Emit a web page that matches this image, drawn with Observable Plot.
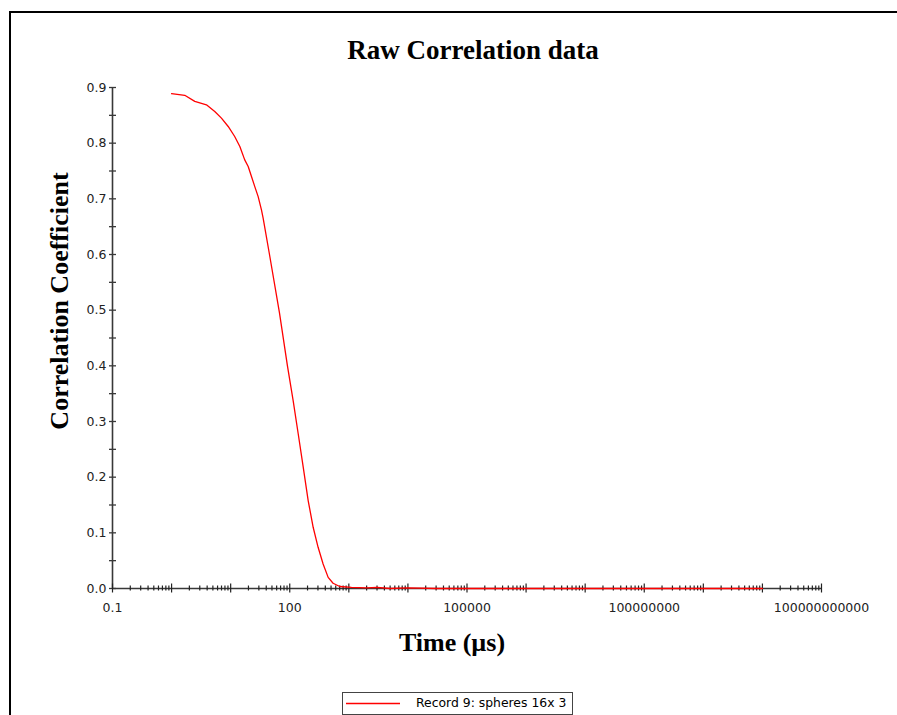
<!DOCTYPE html>
<html>
<head>
<meta charset="utf-8">
<script src="https://cdn.jsdelivr.net/npm/d3@7"></script>
<script src="https://cdn.jsdelivr.net/npm/@observablehq/plot@0.6"></script>
<style>
  html, body { margin: 0; padding: 0; background: #fff; }
  #page { position: relative; width: 897px; height: 715px; overflow: hidden; background: #fff; }
  #frame { position: absolute; left: 9px; top: 11px; width: 950px; height: 760px;
           border-top: 2px solid #000; border-left: 2px solid #000; }
  #chart { position: absolute; left: 0; top: 0; }
  .serif { font-family: "Liberation Serif", "Times New Roman", serif; font-weight: bold; color: #000; }
  #title { position: absolute; left: 223px; width: 500px; top: 37px; font-size: 27px; line-height: 27px; text-align: center; }
  #xlabel { position: absolute; left: 252px; width: 400px; top: 630px; font-size: 26px; line-height: 26px; text-align: center; }
  #ylabel { position: absolute; left: -140px; width: 400px; top: 288px; height: 26px; font-size: 26px; line-height: 26px;
            text-align: center; transform: rotate(-90deg); }
  #legend { position: absolute; left: 342px; top: 692px; width: 231px; height: 23px; box-sizing: border-box;
            border: 1px solid #444; background: #fff; }
  #legend svg { position: absolute; left: 2px; top: 0px; }
  #legend .lbl { position: absolute; left: 73px; top: 3px; font-family: "DejaVu Sans", sans-serif; font-size: 12.4px;
                 line-height: 14px; color: #000; white-space: nowrap; }
</style>
</head>
<body>
<div id="page">
  <div id="frame"></div>
  <div id="chart"></div>
  <div id="title" class="serif">Raw Correlation data</div>
  <div id="xlabel" class="serif">Time (µs)</div>
  <div id="ylabel" class="serif">Correlation Coefficient</div>
  <div id="legend">
    <svg width="56" height="21"><line x1="1" x2="55" y1="10.5" y2="10.5" stroke="#ff0000" stroke-width="1.5"></line></svg>
    <span class="lbl" id="legendText"></span>
  </div>
</div>
<script>
// ---- data ----
const seriesName = "Record 9: spheres 16x 3";
const timeUs = [1.0, 1.67, 2.47, 3.89, 5.38, 6.98, 9.08, 11.7, 14.3, 17.3, 19.8, 22.5, 25.6, 29.2, 33.2, 35.5,
                45.4, 67.0, 91.4, 114, 139, 169, 205, 249, 302, 367, 447, 541, 702, 1107,
                2000, 3000, 5000, 10000, 30000, 100000, 1000000, 10000000, 100000000, 1000000000, 10000000000];
const corr =   [0.889, 0.886, 0.875, 0.869, 0.857, 0.845, 0.830, 0.812, 0.794, 0.770, 0.758, 0.740, 0.722, 0.704, 0.680, 0.665,
                0.600, 0.495, 0.400, 0.338, 0.278, 0.218, 0.158, 0.110, 0.074, 0.044, 0.020, 0.0095, 0.0036, 0.002,
                0.001, 0.002, 0.0, 0.001, 0.0, 0.0, 0.0, 0.0, 0.0, 0.0, 0.0];

// ---- ticks ----
const xTickValues = [0.1, 100, 100000, 100000000, 100000000000];
const xTickLabels = ["0.1", "100", "100000", "100000000", "100000000000"];
const xDecades = [0.1, 1, 10, 100, 1000, 10000, 100000, 1000000, 10000000, 100000000, 1000000000, 10000000000, 100000000000];
const xMinorSteps = [2, 3, 4, 5, 6, 7, 8, 9];
const yTickValues = [0, 0.1, 0.2, 0.3, 0.4, 0.5, 0.6, 0.7, 0.8, 0.9];
const yTickLabels = ["0.0", "0.1", "0.2", "0.3", "0.4", "0.5", "0.6", "0.7", "0.8", "0.9"];
const yMinorValues = [0.05, 0.15, 0.25, 0.35, 0.45, 0.55, 0.65, 0.75, 0.85];

const data = timeUs.map((t, i) => ({t, c: corr[i]}));
const xMinor = xDecades.slice(0, -1).flatMap(d => xMinorSteps.map(k => d * k));
const yAll = yTickValues.concat(yMinorValues);
const xLabelData = xTickValues.map((v, i) => ({v, s: xTickLabels[i]}));
const yLabelData = yTickValues.map((v, i) => ({v, s: yTickLabels[i]}));

const W = 897, H = 715, mL = 112, mR = 76, mT = 87, mB = 127;
const fw = W - mL - mR, fh = H - mT - mB;
const axisColor = "#383838";

const chart = Plot.plot({
  width: W, height: H,
  marginLeft: mL, marginRight: mR, marginTop: mT, marginBottom: mB,
  style: {background: "transparent", fontFamily: "DejaVu Sans, sans-serif"},
  x: {type: "log", domain: [0.1, 1e11], axis: null},
  y: {domain: [0, 0.9], axis: null},
  marks: [
    Plot.ruleX([0.1], {stroke: axisColor, strokeWidth: 1.6}),
    Plot.ruleY([0], {stroke: axisColor, strokeWidth: 1.6}),
    Plot.tickY(yAll, {y: d => d, insetLeft: -3, insetRight: fw - 4, stroke: axisColor, strokeWidth: 1.3}),
    Plot.tickX(xMinor, {x: d => d, insetTop: fh - 2.5, insetBottom: -2.5, stroke: "#222", strokeWidth: 1.2}),
    Plot.tickX(xDecades, {x: d => d, insetTop: fh - 4.5, insetBottom: -4.5, stroke: "#222", strokeWidth: 1.2}),
    Plot.text(xLabelData, {x: "v", y: () => 0, text: "s", dy: 19.5, fontSize: 12.5, fill: "#222", textAnchor: "middle"}),
    Plot.text(yLabelData, {x: () => 0.1, y: "v", text: "s", dx: -6, fontSize: 12.5, fill: "#222", textAnchor: "end"}),
    Plot.line(data, {x: "t", y: "c", stroke: "#ff0000", strokeWidth: 1.3})
  ]
});
document.getElementById("chart").appendChild(chart);
document.getElementById("legendText").textContent = seriesName;
</script>
</body>
</html>
